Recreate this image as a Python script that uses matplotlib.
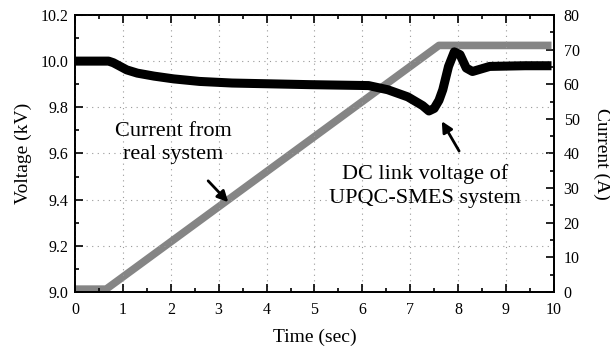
import matplotlib
matplotlib.use("Agg")
import matplotlib.pyplot as plt
from matplotlib.ticker import MultipleLocator

plt.rcParams["font.family"] = ["Liberation Serif", "DejaVu Serif"]

# DC link voltage (kV)
t_volt = [0.0, 0.7, 0.8, 0.9, 1.08, 1.3, 1.65, 2.06, 2.6, 3.28, 4.9, 6.13, 6.53,
          6.95, 7.26, 7.39, 7.5, 7.6, 7.68, 7.8, 7.92, 8.04, 8.17, 8.3, 8.66, 9.4, 9.95]
volt = [10.0, 10.0, 9.993, 9.982, 9.962, 9.948, 9.935, 9.923, 9.912, 9.905, 9.898,
        9.894, 9.876, 9.845, 9.807, 9.784, 9.795, 9.83, 9.876, 9.977, 10.04, 10.028,
        9.97, 9.955, 9.977, 9.98, 9.98]

# current from real system (A)
t_curr = [0.0, 0.65, 7.6, 9.95]
curr = [0.8, 0.8, 71.2, 71.2]

fig = plt.figure(figsize=(6.1, 3.56), dpi=100)
ax = fig.add_axes([0.123, 0.180, 0.785, 0.778])
ax2 = ax.twinx()

ax2.plot(t_curr, curr, color="#858585", lw=5.5, solid_capstyle="butt")
ax.plot(t_volt, volt, color="black", lw=6.5, solid_capstyle="butt")
ax.set_zorder(ax2.get_zorder() + 1)
ax.patch.set_visible(False)

ax.set_xlim(0, 10)
ax.set_ylim(9.0, 10.2)
ax2.set_ylim(0, 80)

ax.xaxis.set_major_locator(MultipleLocator(1))
ax.xaxis.set_minor_locator(MultipleLocator(0.5))
ax.yaxis.set_major_locator(MultipleLocator(0.2))
ax.yaxis.set_minor_locator(MultipleLocator(0.1))
ax2.yaxis.set_major_locator(MultipleLocator(10))
ax2.yaxis.set_minor_locator(MultipleLocator(5))
ax.yaxis.set_major_formatter(plt.FuncFormatter(lambda v, p: f"{v:.1f}"))

ax.grid(True, which="major", color="#999999", lw=0.8, linestyle=(0, (1, 4)))

ax.tick_params(which="both", direction="in", top=True, labelsize=11.5, width=1.2)
ax.tick_params(which="major", length=6)
ax.tick_params(which="minor", length=3)
ax.tick_params(axis="x", pad=7)
ax.tick_params(axis="y", pad=5, right=False)
ax2.tick_params(which="both", direction="in", labelsize=11.5, width=1.2, pad=7)
ax2.tick_params(which="major", length=6)
ax2.tick_params(which="minor", length=3)

for a in (ax, ax2):
    for s in a.spines.values():
        s.set_linewidth(1.3)

ax.set_xlabel("Time (sec)", fontsize=14, labelpad=8)
ax.set_ylabel("Voltage (kV)", fontsize=14, labelpad=6)
ax2.set_ylabel("Current (A)", fontsize=14, rotation=270, labelpad=22)

ax.text(2.05, 9.645, "Current from\nreal system", fontsize=16, ha="center",
        va="center", linespacing=1.35)
ax.annotate("", xy=(3.24, 9.38), xytext=(2.74, 9.49),
            arrowprops=dict(arrowstyle="-|>", lw=2, color="black", mutation_scale=16))

ax.text(7.31, 9.459, "DC link voltage of\nUPQC-SMES system", fontsize=16, ha="center",
        va="center", linespacing=1.35)
ax.annotate("", xy=(7.63, 9.75), xytext=(8.05, 9.60),
            arrowprops=dict(arrowstyle="-|>", lw=2, color="black", mutation_scale=16))

fig.savefig("out.png", dpi=100)
